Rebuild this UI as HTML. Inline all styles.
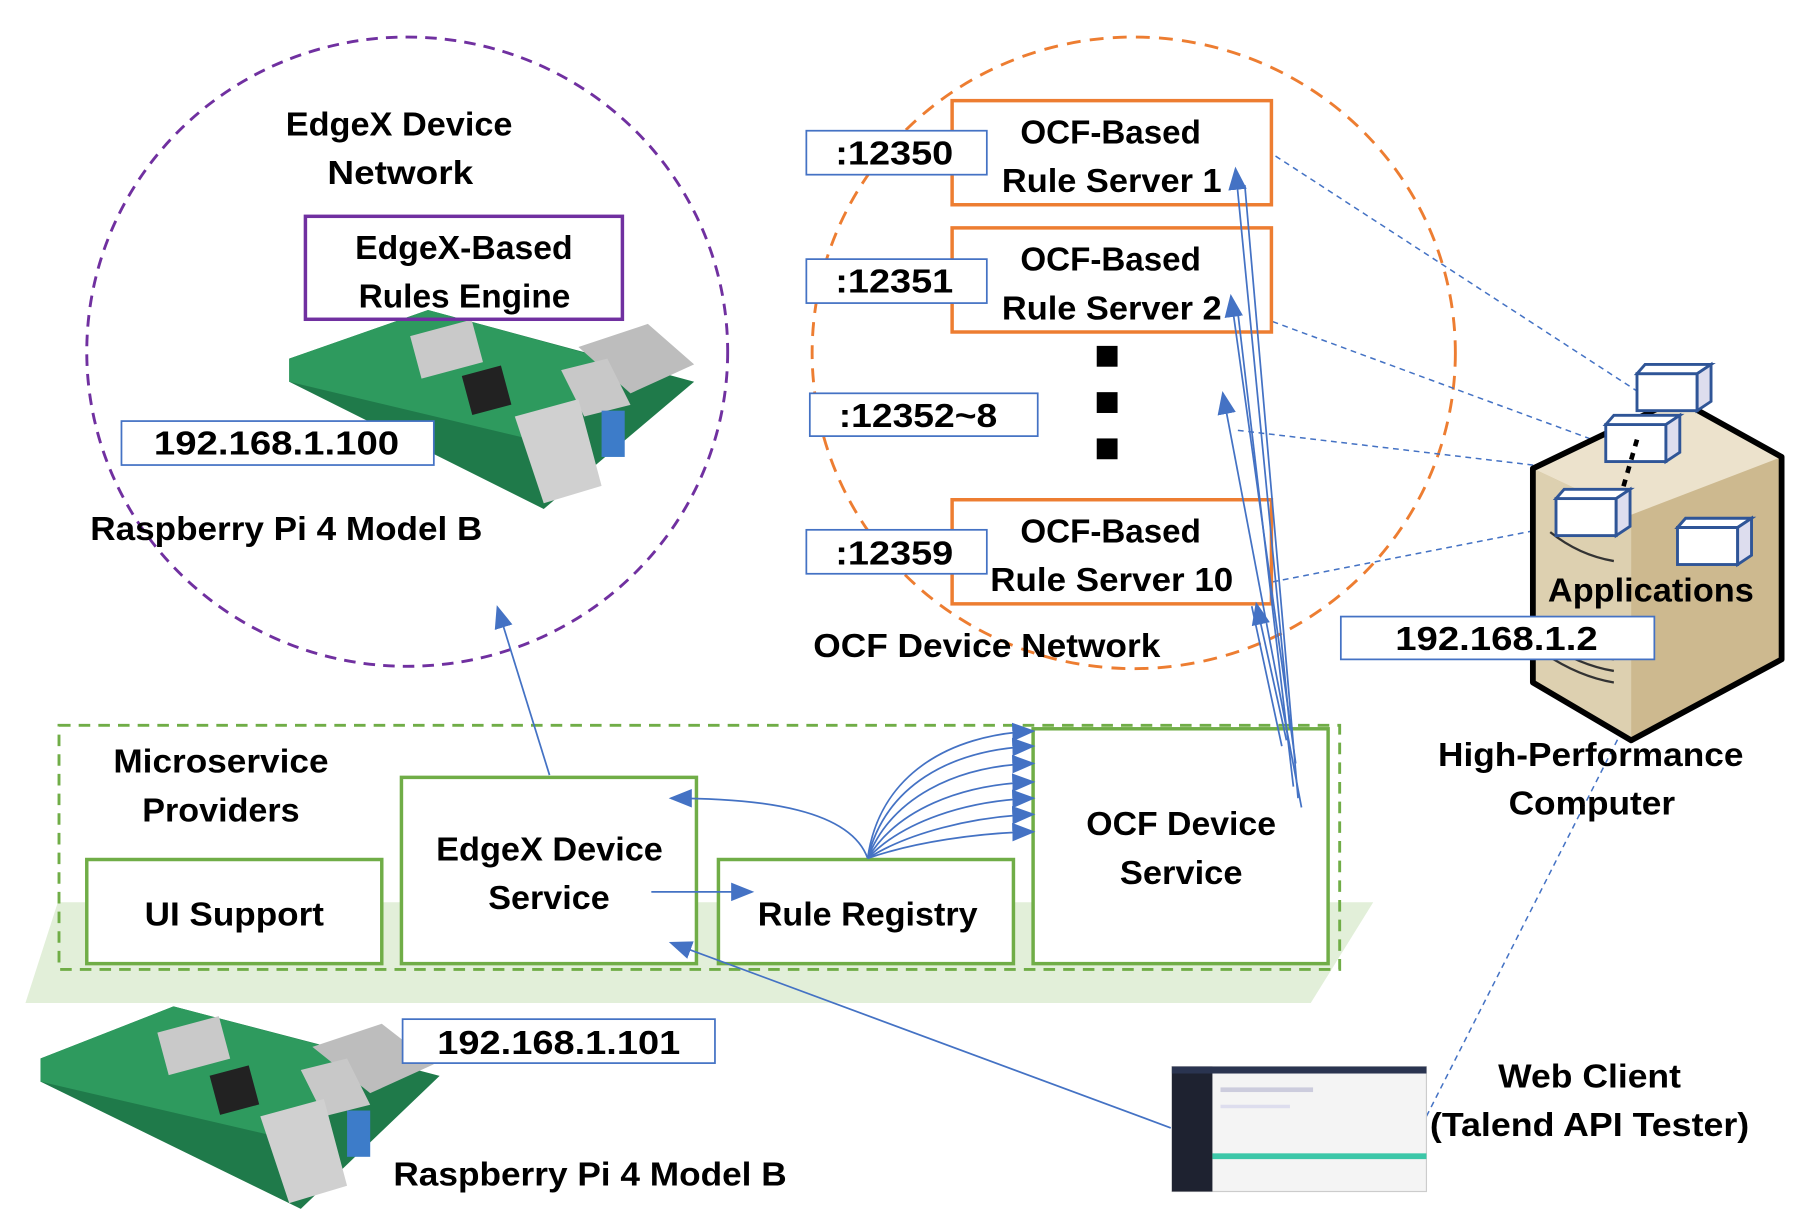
<!DOCTYPE html>
<html><head><meta charset="utf-8"><style>
html,body{margin:0;padding:0;background:#fff;}
svg{display:block;}
text{font-family:"Liberation Sans",sans-serif;font-weight:bold;font-size:29px;fill:#000;}
</style></head><body>
<svg width="1814" height="1232" viewBox="0 0 1568 1065" preserveAspectRatio="none" xmlns="http://www.w3.org/2000/svg">
<defs>
<marker id="ahb" markerWidth="20" markerHeight="20" refX="18" refY="10" orient="auto" markerUnits="userSpaceOnUse" viewBox="0 0 20 20">
<path d="M0,2 L20,10 L0,18 z" fill="#4472C4"/></marker>
</defs>

<polygon points="50,780 1187,780 1133,867 22,867" fill="#e2efd9"/>

<ellipse cx="352" cy="304" rx="277" ry="272" fill="none" stroke="#7030A0" stroke-width="2.5" stroke-dasharray="10,7"/>
<ellipse cx="980" cy="305" rx="278" ry="273" fill="none" stroke="#ED7D31" stroke-width="2.5" stroke-dasharray="12,8"/>

<g stroke="#4472C4" stroke-width="1.3" stroke-dasharray="5,4" fill="none">
<line x1="1095" y1="130" x2="1415" y2="338"/>
<line x1="1100" y1="278" x2="1390" y2="385"/>
<line x1="1070" y1="372" x2="1410" y2="412"/>
<line x1="1100" y1="503" x2="1345" y2="455"/>
<line x1="1233" y1="965" x2="1478" y2="482"/>
</g>

<g>
<polygon points="250,310 370,268 600,330 470,440 250,330" fill="#1f7a4a"/>
<polygon points="250,310 370,268 560,320 460,380 250,330" fill="#2e9a5e"/>
<rect x="358" y="283" width="55" height="38" fill="#c9c9c9" transform="rotate(-15 385 300)"/>
<polygon points="500,300 560,280 600,315 545,340" fill="#bdbdbd"/>
<polygon points="485,320 525,310 545,350 505,360" fill="#c8c8c8"/>
<polygon points="445,360 500,345 520,420 470,435" fill="#d0d0d0"/>
<rect x="520" y="355" width="20" height="40" fill="#3d7cc9"/>
<rect x="403" y="320" width="35" height="35" fill="#222" transform="rotate(-15 420 337)"/>
</g>

<g>
<polygon points="35,915 150,870 380,930 260,1045 35,935" fill="#1f7a4a"/>
<polygon points="35,915 150,870 340,920 250,985 35,935" fill="#2e9a5e"/>
<rect x="140" y="885" width="55" height="38" fill="#c9c9c9" transform="rotate(-15 167 904)"/>
<polygon points="270,905 330,885 375,920 320,945" fill="#bdbdbd"/>
<polygon points="260,925 300,915 320,955 280,965" fill="#c8c8c8"/>
<polygon points="225,965 280,950 300,1025 250,1040" fill="#d0d0d0"/>
<rect x="300" y="960" width="20" height="40" fill="#3d7cc9"/>
<rect x="185" y="925" width="35" height="35" fill="#222" transform="rotate(-15 202 942)"/>
</g>

<g>
<polygon points="1325,405 1450,345 1540,395 1540,570 1410,640 1325,590" fill="#cdb98f"/>
<polygon points="1325,405 1450,345 1540,395 1410,445" fill="#ece2cc"/>
<polygon points="1325,405 1410,445 1410,640 1325,590" fill="#ddd0b0"/>
<polygon points="1325,405 1450,345 1540,395 1540,570 1410,640 1325,590" fill="none" stroke="#000" stroke-width="5" stroke-linejoin="round"/>
<g stroke="#333" stroke-width="2" fill="none">
<path d="M1335,545 q30,20 60,25"/><path d="M1335,555 q30,20 60,25"/><path d="M1335,565 q30,20 60,25"/>
<path d="M1340,460 q25,20 55,25"/>
</g>
<g fill="#fff" stroke="#2F5597" stroke-width="2.5">
<rect x="1415" y="323" width="52" height="32"/><polygon points="1415,323 1422,315 1479,315 1467,323"/><polygon points="1467,323 1479,315 1479,347 1467,355" fill="#dde"/>
<rect x="1388" y="367" width="52" height="32"/><polygon points="1388,367 1395,359 1452,359 1440,367"/><polygon points="1440,367 1452,359 1452,391 1440,399" fill="#dde"/>
<rect x="1345" y="431" width="52" height="32"/><polygon points="1345,431 1352,423 1409,423 1397,431"/><polygon points="1397,431 1409,423 1409,455 1397,463" fill="#dde"/>
<rect x="1450" y="456" width="52" height="32"/><polygon points="1450,456 1457,448 1514,448 1502,456"/><polygon points="1502,456 1514,448 1514,480 1502,488" fill="#dde"/>
</g>
<line x1="1415" y1="380" x2="1402" y2="425" stroke="#000" stroke-width="4" stroke-dasharray="6,6"/>
</g>

<rect x="1013" y="922" width="220" height="108" fill="#f4f4f4" stroke="#ccc"/>
<rect x="1013" y="922" width="35" height="108" fill="#1e2230"/>
<rect x="1013" y="922" width="220" height="6" fill="#2a3450"/>
<rect x="1048" y="997" width="185" height="5" fill="#3cc7a8"/>
<rect x="1055" y="940" width="80" height="4" fill="#ccd"/>
<rect x="1055" y="955" width="60" height="3" fill="#dde"/>

<rect x="948" y="299" width="18" height="18" fill="#000"/>
<rect x="948" y="339" width="18" height="18" fill="#000"/>
<rect x="948" y="379" width="18" height="18" fill="#000"/>

<rect x="51" y="627" width="1107" height="211" fill="none" stroke="#70AD47" stroke-width="2.5" stroke-dasharray="10,7"/>
<g fill="#fff" stroke="#70AD47" stroke-width="3">
<rect x="75" y="743" width="255" height="90"/>
<rect x="347" y="672" width="255" height="161"/>
<rect x="621" y="743" width="255" height="90"/>
<rect x="893" y="630" width="255" height="203"/>
</g>

<g fill="#fff" stroke="#ED7D31" stroke-width="3">
<rect x="823" y="87" width="276" height="90"/>
<rect x="823" y="197" width="276" height="90"/>
<rect x="823" y="432" width="276" height="90"/>
</g>
<rect x="264" y="187" width="274" height="89" fill="none" stroke="#7030A0" stroke-width="3"/>

<g fill="#fff" stroke="#4472C4" stroke-width="1.5">
<rect x="697" y="113" width="156" height="38"/>
<rect x="697" y="224" width="156" height="38"/>
<rect x="700" y="340" width="197" height="37"/>
<rect x="697" y="458" width="156" height="38"/>
<rect x="105" y="364" width="270" height="38"/>
<rect x="348" y="881" width="270" height="38"/>
<rect x="1159" y="533" width="271" height="37"/>
</g>

<g stroke="#4472C4" stroke-width="1.5" fill="none">
<line x1="475" y1="670" x2="430" y2="525" marker-end="url(#ahb)"/>
<path d="M750,742 C735,700 660,690 580,690" marker-end="url(#ahb)"/>
<line x1="563" y1="771" x2="650" y2="771" marker-end="url(#ahb)"/>
<line x1="1012" y1="975" x2="580" y2="815" marker-end="url(#ahb)"/>
<path d="M750,742 C760,670 820,635 893,632" marker-end="url(#ahb)"/>
<path d="M750,742 C765,680 820,648 893,645" marker-end="url(#ahb)"/>
<path d="M750,742 C770,690 825,662 893,660" marker-end="url(#ahb)"/>
<path d="M750,742 C775,700 830,678 893,676" marker-end="url(#ahb)"/>
<path d="M750,742 C780,710 835,692 893,690" marker-end="url(#ahb)"/>
<path d="M750,742 C785,720 840,706 893,704" marker-end="url(#ahb)"/>
<path d="M750,742 C790,728 845,720 893,719" marker-end="url(#ahb)"/>
<line x1="1115" y1="630" x2="1068" y2="146" marker-end="url(#ahb)"/>
<line x1="1120" y1="660" x2="1064" y2="256" marker-end="url(#ahb)"/>
<line x1="1125" y1="698" x2="1057" y2="340" marker-end="url(#ahb)"/>
<line x1="1112" y1="640" x2="1086" y2="522" marker-end="url(#ahb)"/>
<line x1="1122" y1="690" x2="1076" y2="160"/>
<line x1="1118" y1="680" x2="1070" y2="270"/>
<line x1="1108" y1="645" x2="1082" y2="524"/>
</g>

<g>
<text x="247" y="117" textLength="196" lengthAdjust="spacingAndGlyphs">EdgeX Device</text>
<text x="283" y="159" textLength="126" lengthAdjust="spacingAndGlyphs">Network</text>
<text x="307" y="224" textLength="188" lengthAdjust="spacingAndGlyphs">EdgeX-Based</text>
<text x="310" y="266" textLength="183" lengthAdjust="spacingAndGlyphs">Rules Engine</text>
<text x="133" y="393" textLength="212" lengthAdjust="spacingAndGlyphs">192.168.1.100</text>
<text x="78" y="467" textLength="339" lengthAdjust="spacingAndGlyphs">Raspberry Pi 4 Model B</text>
<text x="882" y="124" textLength="156" lengthAdjust="spacingAndGlyphs">OCF-Based</text>
<text x="866" y="166" textLength="190" lengthAdjust="spacingAndGlyphs">Rule Server 1</text>
<text x="882" y="234" textLength="156" lengthAdjust="spacingAndGlyphs">OCF-Based</text>
<text x="866" y="276" textLength="190" lengthAdjust="spacingAndGlyphs">Rule Server 2</text>
<text x="882" y="469" textLength="156" lengthAdjust="spacingAndGlyphs">OCF-Based</text>
<text x="856" y="511" textLength="210" lengthAdjust="spacingAndGlyphs">Rule Server 10</text>
<text x="722" y="142" textLength="102" lengthAdjust="spacingAndGlyphs">:12350</text>
<text x="722" y="253" textLength="102" lengthAdjust="spacingAndGlyphs">:12351</text>
<text x="725" y="369" textLength="137" lengthAdjust="spacingAndGlyphs">:12352~8</text>
<text x="722" y="488" textLength="102" lengthAdjust="spacingAndGlyphs">:12359</text>
<text x="703" y="568" textLength="300" lengthAdjust="spacingAndGlyphs">OCF Device Network</text>
<text x="98" y="668" textLength="186" lengthAdjust="spacingAndGlyphs">Microservice</text>
<text x="123" y="710" textLength="136" lengthAdjust="spacingAndGlyphs">Providers</text>
<text x="125" y="800" textLength="155" lengthAdjust="spacingAndGlyphs">UI Support</text>
<text x="377" y="744" textLength="196" lengthAdjust="spacingAndGlyphs">EdgeX Device</text>
<text x="422" y="786" textLength="105" lengthAdjust="spacingAndGlyphs">Service</text>
<text x="655" y="800" textLength="190" lengthAdjust="spacingAndGlyphs">Rule Registry</text>
<text x="939" y="722" textLength="164" lengthAdjust="spacingAndGlyphs">OCF Device</text>
<text x="968" y="764" textLength="106" lengthAdjust="spacingAndGlyphs">Service</text>
<text x="378" y="911" textLength="210" lengthAdjust="spacingAndGlyphs">192.168.1.101</text>
<text x="340" y="1025" textLength="340" lengthAdjust="spacingAndGlyphs">Raspberry Pi 4 Model B</text>
<text x="1295" y="940" textLength="158" lengthAdjust="spacingAndGlyphs">Web Client</text>
<text x="1236" y="982" textLength="276" lengthAdjust="spacingAndGlyphs">(Talend API Tester)</text>
<text x="1338" y="520" textLength="178" lengthAdjust="spacingAndGlyphs">Applications</text>
<text x="1206" y="562" textLength="175" lengthAdjust="spacingAndGlyphs">192.168.1.2</text>
<text x="1243" y="662" textLength="264" lengthAdjust="spacingAndGlyphs">High-Performance</text>
<text x="1304" y="704" textLength="144" lengthAdjust="spacingAndGlyphs">Computer</text>
</g>
</svg>
</body></html>
